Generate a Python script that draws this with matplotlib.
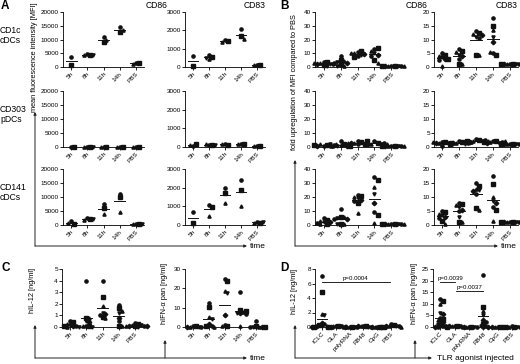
import numpy as np
import matplotlib
matplotlib.use('Agg')
import matplotlib.pyplot as plt

plt.rcParams['font.family'] = ['Liberation Sans', 'DejaVu Sans']

# categories
times = ['5h', '8h', '11h', '14h', 'PBS']
agonists = ['ICLC', 'GLA', 'polyRNA', 'R848', 'CpG', 'PBS']

# A: MFI, one list per time point
a_cd1c_cd86 = [[3500, 900], [4800, 4500, 4300, 4400], [10800, 9200, 10000], [14500, 12800, 13500], [1400, 1300, 1200]]
a_cd1c_cd83 = [[580, 60], [650, 550, 450, 500], [1450, 1400, 1380], [2050, 1700, 1550], [120, 110, 100]]
a_cd303_cd86 = [[50, 100], [80, 60, 90, 70], [100, 80, 60], [150, 100, 120], [30, 20, 40]]
a_cd303_cd83 = [[80, 150, 110], [120, 100, 140, 110], [180, 130, 160], [160, 150, 140], [60, 50, 70]]
a_cd141_cd86 = [[1400, 300, 700], [2600, 2300, 1700, 2200], [7500, 6000, 3800], [11200, 10000, 4500], [300, 250, 200, 350]]
a_cd141_cd83 = [[700, 100], [1050, 950, 500], [2000, 1700, 1200], [2400, 1900, 1000], [150, 130, 120, 140]]

# B: fold upregulation vs PBS
b_cd1c_cd86 = [[4, 3.5, 3, 2.5, 2, 2, 1.5, 3, 0.5], [8, 5, 4.5, 4, 3, 3, 2, 1, 1],
               [11, 12, 10, 9, 9.5, 8, 7, 10], [13, 14, 12, 10, 9, 8, 5, 3], [1, 1, 1, 1, 1, 1, 1, 1]]
b_cd1c_cd83 = [[5, 4.5, 4, 3.5, 3, 2.5, 3, 0.5], [6.5, 6, 5.5, 4.5, 4, 3, 1, 1],
               [13, 12.5, 12, 11, 11.5, 10.5, 4.5, 4.5], [18, 15, 13.5, 11, 9, 5, 4.5, 5.5], [1, 1, 1, 1, 1, 1, 1, 1]]
b_cd303_cd86 = [[1, 1.5, 2, 2.5, 1, 0.5, 1.5, 2], [4, 2, 1.5, 1, 1, 1.5, 0.5, 1],
                [4.5, 3.5, 3, 2.5, 3, 2, 4, 3], [4, 3, 2.5, 2, 2, 3, 2.5, 2], [1, 1, 1, 1, 1, 1, 1, 1]]
b_cd303_cd83 = [[1.8, 1.7, 1.5, 1.6, 1.4, 0.5, 1.6, 1.7], [2, 1.8, 1.5, 1.2, 1.3, 1.6, 1.0, 1.9],
                [2.8, 2.5, 2.2, 2.0, 1.9, 2.4, 2.1, 2.3], [2.2, 2.0, 1.8, 1.6, 1.5, 1.9, 1.7, 2.1], [1, 1, 1, 1, 1, 1, 1, 1]]
b_cd141_cd86 = [[5, 3.5, 3, 2.5, 2, 1.5, 1, 0.5], [11.5, 6, 5.5, 5, 4.5, 4, 1, 1, 0.5],
                [21.5, 21, 20, 19, 18, 17, 16, 8.5], [34, 32, 27, 22, 16, 9, 7, 1.5], [1, 1, 1, 1, 1, 1, 1, 1]]
b_cd141_cd83 = [[5, 4.5, 4, 3.5, 3, 2.5, 1.5, 0.5], [8, 7.5, 7, 6.5, 5.5, 5, 1, 1, 3],
                [15, 14, 13, 12.5, 12, 11, 6, 5.5], [17.5, 14.5, 10, 8.5, 8, 6.5, 5.5, 1.5], [1, 1, 1, 1, 1, 1, 1, 1]]

# C: cytokines over time [ng/ml]
c_il12 = [[0.5, 0.4, 0.3, 0.2, 0.1, 0.1, 0.05, 0, 0], [4.0, 0.8, 0.8, 0.5, 0.4, 0.1, 0.1, 0.05, 0],
          [4.0, 2.6, 1.8, 1.2, 1.1, 1.0, 0.9, 0.8], [1.9, 1.6, 1.4, 1.2, 0.8, 0.5, 0.1, 0.05],
          [0.35, 0.3, 0.2, 0.15, 0.1, 0.1, 0.05, 0.05, 0.02, 0.05]]
c_ifna = [[0.5, 0.3, 0.2, 0.1, 0.1, 0.05], [12.5, 10.5, 5, 4, 1.5, 0.5, 0.3, 0.2],
          [25, 24, 18.5, 17.5, 6, 1, 0.5, 0.3], [18, 9, 8, 7.5, 7, 6.5, 8.5, 0.3],
          [3, 0.3, 0.2, 0.1, 0.1, 0.1, 0.1]]

# D: cytokines per TLR agonist [ng/ml]
d_il12 = [[7.1, 4.8, 1.8, 1.6, 0.6, 0.4, 0.3, 0.2, 0.1, 0.1, 0.05, 0.05, 0.02, 0.02, 0.01],
          [0.2, 0.15, 0.1, 0.1, 0.05, 0.05, 0.02, 0.1], [0.02, 0.02, 0.02, 0.02, 0.02, 0.02],
          [0.15, 0.1, 0.1, 0.05, 0.08, 0.05], [0.02, 0.02, 0.02, 0.02, 0.02, 0.02],
          [0.35, 0.3, 0.2, 0.15, 0.1, 0.1, 0.05, 0.05, 0.02, 0.05]]
d_ifna = [[12, 11, 10, 6, 5.5, 4, 3.5, 3, 2.5, 2, 1.5, 1, 0.5, 0.3, 0.2, 0.1],
          [0.6, 0.5, 0.4, 0.3, 0.3, 0.2, 0.1], [0.05, 0.05, 0.05, 0.05, 0.05, 0.05],
          [22.5, 8.5, 7, 5, 3, 2, 1.5, 0.5, 0.3, 0.2, 0.1], [0.05, 0.05, 0.05, 0.05, 0.05, 0.05],
          [0.3, 0.2, 0.1, 0.1, 0.1, 0.05, 0.05]]

W, H = 520, 364
fig = plt.figure(figsize=(W / 100, H / 100), dpi=100)

# overlay in pixel coords for arrows and free text
ov = fig.add_axes([0, 0, 1, 1])
ov.set_xlim(0, W)
ov.set_ylim(H, 0)
ov.axis('off')

MARKERS = ['o', 's', '^', 'v', 'D']
TICK_FS = 4.6


def add_ax(l, t, r, b):
    return fig.add_axes([l / W, 1 - b / H, (r - l) / W, (b - t) / H])


def swarm(vals, ymax, step=0.18):
    placed = []
    offs = []
    for v in vals:
        for k in [0, 1, -1, 2, -2, 3, -3, 4, -4]:
            o = k * step
            if all(abs(o - po) > step * 0.9 or abs(v - pv) > 0.055 * ymax for po, pv in placed):
                break
        placed.append((o, v))
        offs.append(o)
    return offs


def dot_plot(ax, groups, labels, ymax, yticks):
    for i, vals in enumerate(groups):
        offs = swarm(vals, ymax)
        for j, (o, v) in enumerate(zip(offs, vals)):
            ax.plot(i + 1 + o, v, marker=MARKERS[j % 5], ms=2.3, color='#111111',
                    ls='none', clip_on=False, zorder=3)
        m = np.mean(vals)
        ax.plot([i + 1 - 0.34, i + 1 + 0.34], [m, m], color='#111111', lw=0.7, zorder=2)
    ax.set_xlim(0.5, len(groups) + 0.5)
    ax.set_ylim(0, ymax)
    ax.set_yticks(yticks)
    ax.set_yticklabels([str(t) for t in yticks], fontsize=TICK_FS)
    ax.set_xticks(range(1, len(groups) + 1))
    ax.set_xticklabels(labels, rotation=45, ha='right', rotation_mode='anchor', fontsize=TICK_FS)
    for s in ['top', 'right']:
        ax.spines[s].set_visible(False)
    for s in ['left', 'bottom']:
        ax.spines[s].set_linewidth(0.6)
    ax.tick_params(length=2, width=0.6, pad=1)
    ax.patch.set_visible(False)


rows = [(12, 67), (91, 147), (169, 225)]
a_sets = [(a_cd1c_cd86, a_cd1c_cd83), (a_cd303_cd86, a_cd303_cd83), (a_cd141_cd86, a_cd141_cd83)]
b_sets = [(b_cd1c_cd86, b_cd1c_cd83), (b_cd303_cd86, b_cd303_cd83), (b_cd141_cd86, b_cd141_cd83)]
row_names = ['CD1c\ncDCs', 'CD303\npDCs', 'CD141\ncDCs']

for (t, b), (d86, d83), (e86, e83), name in zip(rows, a_sets, b_sets, row_names):
    dot_plot(add_ax(63, t, 144, b), d86, times, 20000, [0, 5000, 10000, 15000, 20000])
    dot_plot(add_ax(185, t, 265, b), d83, times, 3000, [0, 1000, 2000, 3000])
    dot_plot(add_ax(315, t, 400, b), e86, times, 40, [0, 10, 20, 30, 40])
    dot_plot(add_ax(434, t, 518, b), e83, times, 20, [0, 5, 10, 15, 20])
    ov.text(0, t + 0.42 * (b - t), name, fontsize=6.2, ha='left', va='center', linespacing=1.15)

# C
dot_plot(add_ax(62, 269, 143, 327), c_il12, times, 5, [0, 1, 2, 3, 4, 5])
dot_plot(add_ax(185, 269, 264, 327), c_ifna, times, 30, [0, 10, 20, 30])

# D
ax_d1 = add_ax(315, 269, 398, 327)
dot_plot(ax_d1, d_il12, agonists, 8, [0, 2, 4, 6, 8])
ax_d2 = add_ax(433, 269, 519, 327)
dot_plot(ax_d2, d_ifna, agonists, 25, [0, 5, 10, 15, 20, 25])

# significance bars
ax_d1.plot([1, 5.9], [6.15, 6.15], color='k', lw=0.6, clip_on=False)
ax_d1.text(3.4, 6.3, 'p=0.0004', fontsize=4.4, ha='center', va='bottom')
ax_d2.plot([1, 2], [19.5, 19.5], color='k', lw=0.6, clip_on=False)
ax_d2.text(1.7, 19.8, 'p=0.0039', fontsize=4.4, ha='center', va='bottom')
ax_d2.plot([2.1, 4], [15.5, 15.5], color='k', lw=0.6, clip_on=False)
ax_d2.text(3.05, 15.8, 'p=0.0037', fontsize=4.4, ha='center', va='bottom')

# titles and panel letters
for x, s in [(157, 'CD86'), (255, 'CD83'), (417, 'CD86'), (507, 'CD83')]:
    ov.text(x, 6, s, fontsize=6.2, ha='center', va='center')
for x, y, s in [(1, 6, 'A'), (280, 6, 'B'), (1, 268, 'C'), (280, 268, 'D')]:
    ov.text(x, y, s, fontsize=8.5, fontweight='bold', ha='left', va='center')

# y labels
YL = 5.3
ov.text(35, 57, 'mean fluorescence intensity [MFI]', rotation=90, fontsize=YL, ha='center', va='center')
ov.text(295, 82, 'fold upregulation of MFI compared to PBS', rotation=90, fontsize=YL, ha='center', va='center')
ov.text(33, 290, 'hIL-12 [ng/ml]', rotation=90, fontsize=YL, ha='center', va='center')
ov.text(165, 293, 'hIFN-α pan [ng/ml]', rotation=90, fontsize=YL, ha='center', va='center')
ov.text(295, 291, 'hIL-12 [ng/ml]', rotation=90, fontsize=YL, ha='center', va='center')
ov.text(415, 293, 'hIFN-α pan [ng/ml]', rotation=90, fontsize=YL, ha='center', va='center')

# axis arrows
arrow = dict(arrowstyle='-|>', lw=0.7, color='#222222', mutation_scale=4, shrinkA=0, shrinkB=0)


def arr(x0, y0, x1, y1):
    ov.annotate('', xy=(x1, y1), xytext=(x0, y0), arrowprops=arrow)


arr(35, 246, 35, 112)
arr(35, 246, 247, 246)
ov.text(250, 246, 'time', fontsize=6, ha='left', va='center')
arr(295, 246, 295, 160)
arr(295, 246, 498, 246)
ov.text(501, 246, 'time', fontsize=6, ha='left', va='center')

arr(35, 358, 35, 325)
arr(165, 358, 165, 340)
arr(35, 358, 247, 358)
ov.text(250, 358, 'time', fontsize=6, ha='left', va='center')

arr(295, 358, 295, 325)
arr(415, 358, 415, 340)
arr(295, 358, 432, 358)
ov.text(437, 358, 'TLR agonist injected', fontsize=6, ha='left', va='center')

fig.savefig('out.png', dpi=100)
